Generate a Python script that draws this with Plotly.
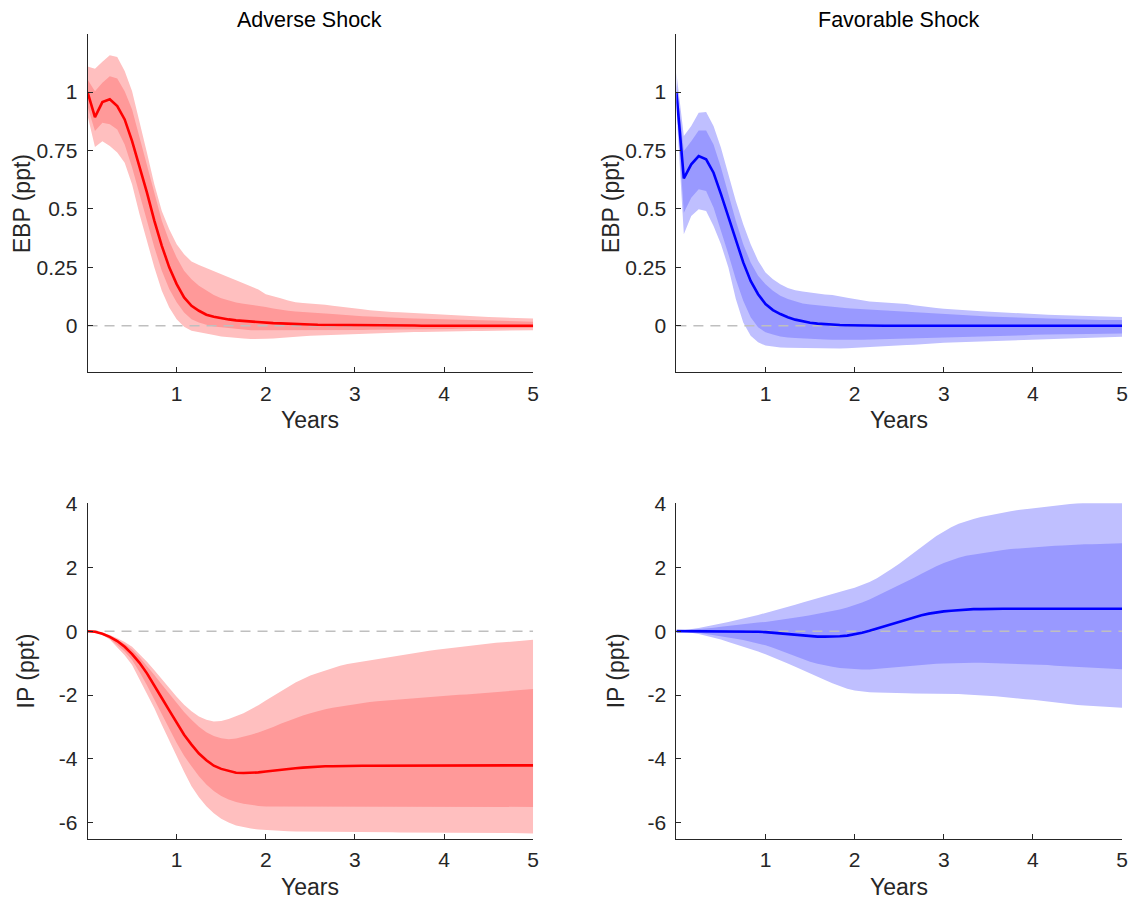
import plotly.graph_objects as go

# Horizon: monthly steps over five years
months = list(range(61))
years = [m / 12 for m in months]

# ---- Excess bond premium (EBP) responses, ppt ----
ebp_adv_med = [1.0, 0.893, 0.957, 0.969, 0.94, 0.883, 0.79, 0.684, 0.57, 0.449, 0.342, 0.25, 0.178, 0.121,
               0.085, 0.064, 0.047, 0.038, 0.031, 0.027, 0.023, 0.02, 0.017, 0.015, 0.013, 0.011, 0.01, 0.008,
               0.007, 0.006, 0.005, 0.004, 0.004, 0.003, 0.003, 0.002, 0.002, 0.001, 0.001, 0.001, 0.001,
               0.001, 0.001, 0.001, 0.001, 0.0, 0.0, 0.0, 0.0, 0.0, 0.0, 0.0, 0.0, 0.0, 0.0, 0.0, 0.0, 0.0,
               0.0, 0.0, 0.0]
ebp_adv_hi90 = [1.11, 1.10, 1.13, 1.158, 1.15, 1.09, 1.004, 0.876, 0.74, 0.605, 0.491, 0.413, 0.349, 0.306,
                0.275, 0.26, 0.246, 0.232, 0.221, 0.207, 0.195, 0.182, 0.168, 0.155, 0.135, 0.128, 0.118,
                0.108, 0.1, 0.097, 0.095, 0.093, 0.09, 0.085, 0.082, 0.078, 0.074, 0.07, 0.066, 0.063, 0.061,
                0.059, 0.058, 0.056, 0.054, 0.052, 0.05, 0.049, 0.047, 0.045, 0.044, 0.043, 0.04, 0.038,
                0.037, 0.036, 0.035, 0.034, 0.033, 0.032, 0.031]
ebp_adv_hi68 = [1.054, 1.004, 1.04, 1.068, 1.058, 1.004, 0.926, 0.805, 0.684, 0.563, 0.449, 0.363, 0.292,
                0.235, 0.199, 0.171, 0.15, 0.132, 0.118, 0.107, 0.099, 0.094, 0.09, 0.085, 0.08, 0.074,
                0.068, 0.064, 0.061, 0.058, 0.056, 0.054, 0.052, 0.05, 0.047, 0.045, 0.043, 0.041, 0.039,
                0.037, 0.036, 0.035, 0.034, 0.032, 0.031, 0.03, 0.029, 0.028, 0.027, 0.026, 0.025, 0.024,
                0.023, 0.022, 0.021, 0.02, 0.02, 0.019, 0.018, 0.018, 0.017]
ebp_adv_lo68 = [0.94, 0.833, 0.869, 0.862, 0.84, 0.776, 0.677, 0.563, 0.449, 0.335, 0.235, 0.157, 0.1, 0.057,
                0.028, 0.014, 0.004, -0.003, -0.007, -0.01, -0.013, -0.016, -0.019, -0.02, -0.021, -0.021,
                -0.021, -0.021, -0.021, -0.021, -0.021, -0.021, -0.02, -0.02, -0.019, -0.019, -0.018, -0.018,
                -0.017, -0.017, -0.017, -0.016, -0.016, -0.016, -0.015, -0.015, -0.015, -0.014, -0.014,
                -0.014, -0.013, -0.013, -0.013, -0.012, -0.012, -0.012, -0.011, -0.011, -0.011, -0.01, -0.01]
ebp_adv_lo90 = [0.90, 0.765, 0.79, 0.769, 0.741, 0.698, 0.605, 0.477, 0.363, 0.249, 0.15, 0.078, 0.028,
                -0.004, -0.021, -0.028, -0.033, -0.04, -0.046, -0.05, -0.053, -0.055, -0.057, -0.057, -0.056,
                -0.055, -0.053, -0.051, -0.048, -0.045, -0.043, -0.041, -0.039, -0.037, -0.036, -0.035,
                -0.034, -0.033, -0.032, -0.031, -0.031, -0.03, -0.029, -0.028, -0.027, -0.027, -0.026,
                -0.026, -0.025, -0.025, -0.024, -0.024, -0.023, -0.023, -0.022, -0.022, -0.021, -0.021,
                -0.02, -0.02, -0.019]

ebp_fav_med = [1.0, 0.631, 0.691, 0.726, 0.712, 0.655, 0.563, 0.463, 0.363, 0.271, 0.192, 0.135, 0.093,
               0.067, 0.05, 0.036, 0.026, 0.019, 0.013, 0.009, 0.006, 0.004, 0.003, 0.002, 0.001, 0.0, 0.0,
               0.0, 0.0, 0.0, 0.0, 0.0, 0.0, 0.0, 0.0, 0.0, 0.0, 0.0, 0.0, 0.0, 0.0, 0.0, 0.0, 0.0, 0.0,
               0.0, 0.0, 0.0, 0.0, 0.0, 0.0, 0.0, 0.0, 0.0, 0.0, 0.0, 0.0, 0.0, 0.0, 0.0, 0.0]
ebp_fav_hi90 = [1.083, 0.812, 0.855, 0.912, 0.915, 0.855, 0.762, 0.648, 0.534, 0.434, 0.349, 0.278, 0.228,
                0.199, 0.178, 0.161, 0.152, 0.147, 0.142, 0.138, 0.134, 0.131, 0.127, 0.12, 0.114, 0.108,
                0.104, 0.102, 0.1, 0.099, 0.096, 0.093, 0.088, 0.083, 0.079, 0.076, 0.073, 0.07, 0.067,
                0.065, 0.064, 0.062, 0.06, 0.058, 0.056, 0.055, 0.054, 0.052, 0.049, 0.048, 0.047, 0.046,
                0.045, 0.043, 0.042, 0.041, 0.04, 0.039, 0.038, 0.037, 0.037]
ebp_fav_hi68 = [1.04, 0.748, 0.79, 0.836, 0.836, 0.776, 0.677, 0.563, 0.449, 0.349, 0.271, 0.214, 0.178,
                0.15, 0.128, 0.114, 0.103, 0.095, 0.091, 0.087, 0.083, 0.08, 0.078, 0.075, 0.073, 0.07,
                0.068, 0.066, 0.064, 0.062, 0.061, 0.06, 0.058, 0.056, 0.053, 0.051, 0.049, 0.047, 0.045,
                0.043, 0.041, 0.04, 0.039, 0.038, 0.037, 0.036, 0.035, 0.034, 0.032, 0.031, 0.03, 0.029,
                0.028, 0.027, 0.027, 0.026, 0.026, 0.025, 0.025, 0.024, 0.024]
ebp_fav_lo68 = [0.96, 0.484, 0.548, 0.584, 0.577, 0.506, 0.406, 0.306, 0.199, 0.107, 0.036, -0.007, -0.028,
                -0.038, -0.046, -0.05, -0.053, -0.055, -0.057, -0.058, -0.059, -0.06, -0.061, -0.061, -0.06,
                -0.06, -0.059, -0.058, -0.058, -0.057, -0.057, -0.057, -0.056, -0.055, -0.054, -0.053,
                -0.052, -0.05, -0.049, -0.048, -0.047, -0.046, -0.046, -0.045, -0.044, -0.043, -0.042,
                -0.041, -0.039, -0.038, -0.038, -0.037, -0.037, -0.036, -0.036, -0.035, -0.035, -0.034,
                -0.034, -0.033, -0.033]
ebp_fav_lo90 = [0.93, 0.392, 0.47, 0.499, 0.491, 0.427, 0.349, 0.249, 0.114, 0.014, -0.043, -0.071, -0.085,
                -0.09, -0.093, -0.094, -0.095, -0.095, -0.096, -0.096, -0.097, -0.097, -0.097, -0.096,
                -0.095, -0.094, -0.093, -0.091, -0.089, -0.087, -0.085, -0.083, -0.081, -0.078, -0.076,
                -0.075, -0.073, -0.071, -0.069, -0.068, -0.068, -0.066, -0.065, -0.063, -0.062, -0.061,
                -0.06, -0.059, -0.058, -0.057, -0.057, -0.056, -0.055, -0.054, -0.053, -0.052, -0.051,
                -0.05, -0.049, -0.048, -0.047]

# ---- Industrial production (IP) responses, ppt ----
ip_adv_med = [0.0, -0.02, -0.08, -0.18, -0.31, -0.49, -0.72, -0.99, -1.32, -1.69, -2.09, -2.48, -2.86, -3.24,
              -3.55, -3.83, -4.04, -4.21, -4.31, -4.38, -4.43, -4.44, -4.44, -4.42, -4.39, -4.36, -4.33,
              -4.31, -4.29, -4.27, -4.25, -4.24, -4.23, -4.23, -4.22, -4.22, -4.21, -4.21, -4.21, -4.21,
              -4.2, -4.2, -4.2, -4.2, -4.2, -4.2, -4.2, -4.2, -4.2, -4.2, -4.2, -4.2, -4.2, -4.2, -4.2,
              -4.2, -4.2, -4.2, -4.2, -4.2, -4.2]
ip_adv_hi90 = [0.0, -0.01, -0.05, -0.12, -0.22, -0.34, -0.49, -0.71, -0.96, -1.22, -1.5, -1.78, -2.05, -2.3,
               -2.51, -2.67, -2.77, -2.83, -2.81, -2.75, -2.67, -2.57, -2.44, -2.32, -2.17, -2.03, -1.88,
               -1.74, -1.61, -1.5, -1.39, -1.31, -1.23, -1.14, -1.08, -1.03, -0.99, -0.95, -0.91, -0.87,
               -0.83, -0.8, -0.76, -0.72, -0.68, -0.64, -0.61, -0.58, -0.55, -0.52, -0.49, -0.46, -0.43,
               -0.4, -0.38, -0.36, -0.35, -0.33, -0.31, -0.29, -0.27]
ip_adv_hi68 = [0.0, -0.015, -0.06, -0.15, -0.26, -0.4, -0.57, -0.82, -1.09, -1.37, -1.67, -1.96, -2.25,
               -2.53, -2.77, -2.99, -3.16, -3.28, -3.35, -3.38, -3.36, -3.31, -3.24, -3.17, -3.09, -3.0,
               -2.9, -2.81, -2.72, -2.64, -2.57, -2.5, -2.44, -2.4, -2.36, -2.32, -2.28, -2.25, -2.22,
               -2.19, -2.17, -2.15, -2.13, -2.11, -2.09, -2.07, -2.06, -2.04, -2.03, -2.01, -1.99, -1.98,
               -1.96, -1.94, -1.93, -1.91, -1.89, -1.87, -1.85, -1.83, -1.81]
ip_adv_lo68 = [0.0, -0.03, -0.11, -0.23, -0.42, -0.64, -0.9, -1.28, -1.69, -2.1, -2.58, -3.04, -3.5, -3.9,
               -4.23, -4.54, -4.8, -5.0, -5.16, -5.27, -5.35, -5.4, -5.44, -5.47, -5.49, -5.5, -5.5, -5.5,
               -5.5, -5.5, -5.5, -5.5, -5.5, -5.5, -5.5, -5.5, -5.5, -5.5, -5.5, -5.5, -5.5, -5.5, -5.5,
               -5.5, -5.5, -5.5, -5.5, -5.5, -5.5, -5.5, -5.5, -5.5, -5.5, -5.5, -5.5, -5.5, -5.5, -5.5,
               -5.5, -5.5, -5.5]
ip_adv_lo90 = [0.0, -0.035, -0.12, -0.26, -0.49, -0.75, -1.06, -1.5, -1.95, -2.41, -2.93, -3.43, -3.92,
               -4.4, -4.85, -5.2, -5.48, -5.7, -5.87, -5.99, -6.08, -6.14, -6.18, -6.21, -6.23, -6.24,
               -6.25, -6.26, -6.27, -6.27, -6.28, -6.28, -6.28, -6.28, -6.28, -6.28, -6.29, -6.29, -6.29,
               -6.29, -6.29, -6.29, -6.3, -6.3, -6.3, -6.3, -6.3, -6.3, -6.31, -6.31, -6.31, -6.31, -6.31,
               -6.31, -6.32, -6.32, -6.32, -6.32, -6.32, -6.32, -6.33]

ip_fav_med = [0.0, 0.0, 0.0, 0.0, 0.0, 0.0, 0.0, 0.0, 0.0, -0.01, -0.01, -0.02, -0.03, -0.05, -0.07, -0.1,
              -0.12, -0.14, -0.16, -0.17, -0.17, -0.17, -0.16, -0.14, -0.1, -0.05, 0.01, 0.08, 0.16, 0.23,
              0.3, 0.37, 0.44, 0.5, 0.55, 0.59, 0.62, 0.64, 0.66, 0.68, 0.69, 0.69, 0.7, 0.7, 0.7, 0.7, 0.7,
              0.7, 0.7, 0.7, 0.7, 0.7, 0.7, 0.7, 0.7, 0.7, 0.7, 0.7, 0.7, 0.7, 0.7]
ip_fav_hi90 = [0.0, 0.03, 0.06, 0.1, 0.15, 0.19, 0.24, 0.29, 0.34, 0.39, 0.45, 0.51, 0.57, 0.63, 0.7, 0.76,
               0.83, 0.9, 0.97, 1.04, 1.1, 1.17, 1.23, 1.3, 1.36, 1.45, 1.54, 1.66, 1.8, 1.95, 2.11, 2.29,
               2.45, 2.63, 2.81, 2.98, 3.12, 3.25, 3.36, 3.44, 3.51, 3.57, 3.62, 3.67, 3.71, 3.75, 3.79,
               3.82, 3.85, 3.88, 3.91, 3.94, 3.96, 3.98, 4.0, 4.02, 4.03, 4.05, 4.06, 4.07, 4.08]
ip_fav_hi68 = [0.0, 0.02, 0.035, 0.05, 0.08, 0.11, 0.14, 0.17, 0.2, 0.22, 0.25, 0.27, 0.29, 0.32, 0.35,
               0.39, 0.43, 0.46, 0.5, 0.54, 0.58, 0.62, 0.68, 0.74, 0.81, 0.9, 0.99, 1.1, 1.21, 1.32, 1.43,
               1.55, 1.67, 1.8, 1.92, 2.03, 2.13, 2.22, 2.3, 2.36, 2.4, 2.44, 2.48, 2.51, 2.54, 2.57, 2.59,
               2.61, 2.63, 2.64, 2.66, 2.67, 2.68, 2.7, 2.71, 2.72, 2.72, 2.73, 2.74, 2.74, 2.75]
ip_fav_lo68 = [0.0, -0.01, -0.03, -0.05, -0.08, -0.12, -0.16, -0.2, -0.24, -0.28, -0.33, -0.38, -0.44,
               -0.52, -0.6, -0.68, -0.78, -0.87, -0.96, -1.02, -1.07, -1.11, -1.15, -1.17, -1.19, -1.2,
               -1.2, -1.19, -1.18, -1.16, -1.14, -1.11, -1.08, -1.06, -1.04, -1.02, -1.01, -1.0, -0.99,
               -0.99, -0.99, -0.99, -0.99, -1.0, -1.0, -1.01, -1.02, -1.03, -1.04, -1.05, -1.06, -1.08,
               -1.09, -1.11, -1.13, -1.14, -1.15, -1.16, -1.17, -1.18, -1.19]
ip_fav_lo90 = [0.0, -0.02, -0.05, -0.09, -0.15, -0.2, -0.26, -0.34, -0.41, -0.49, -0.57, -0.64, -0.72,
               -0.82, -0.91, -1.01, -1.11, -1.22, -1.32, -1.42, -1.53, -1.63, -1.72, -1.8, -1.86, -1.89,
               -1.91, -1.92, -1.93, -1.93, -1.94, -1.94, -1.95, -1.95, -1.95, -1.96, -1.96, -1.97, -1.97,
               -1.98, -1.99, -2.0, -2.02, -2.04, -2.06, -2.08, -2.1, -2.13, -2.15, -2.17, -2.2, -2.22,
               -2.25, -2.28, -2.31, -2.33, -2.35, -2.36, -2.38, -2.39, -2.4]

# Axis ticks
x_ticks = [1, 2, 3, 4, 5]
ebp_ticks = [0, 0.25, 0.5, 0.75, 1]
ebp_tick_text = ["0", "0.25", "0.5", "0.75", "1"]
ip_ticks = [-6, -4, -2, 0, 2, 4]
ip_tick_text = ["-6", "-4", "-2", "0", "2", "4"]

panel_titles = ["Adverse Shock", "Favorable Shock"]
x_title = "Years"
ebp_label = "EBP (ppt)"
ip_label = "IP (ppt)"

RED = dict(line="#FF0000", band68="#FF9999", band90="#FFBFBF")
BLUE = dict(line="#0000FF", band68="#9999FF", band90="#BFBFFF")

W, H = 1133, 902
FONT = "Arial, 'Liberation Sans', Helvetica, sans-serif"
INK = "#262626"

fig = go.Figure()


def add_panel(ax, med, hi68, lo68, hi90, lo90, colors):
    xa, ya = ("x" + ax, "y" + ax)
    poly_x = years + years[::-1]
    fig.add_trace(go.Scatter(x=poly_x, y=hi90 + lo90[::-1], fill="toself", fillcolor=colors["band90"],
                             line=dict(width=0), mode="lines", hoverinfo="skip", showlegend=False,
                             xaxis=xa, yaxis=ya))
    fig.add_trace(go.Scatter(x=poly_x, y=hi68 + lo68[::-1], fill="toself", fillcolor=colors["band68"],
                             line=dict(width=0), mode="lines", hoverinfo="skip", showlegend=False,
                             xaxis=xa, yaxis=ya))
    fig.add_trace(go.Scatter(x=years, y=[0.0] * len(years), mode="lines",
                             line=dict(color="#BFBFBF", width=1.5, dash="10px,7px"),
                             hoverinfo="skip", showlegend=False, xaxis=xa, yaxis=ya))
    fig.add_trace(go.Scatter(x=years, y=med, mode="lines", line=dict(color=colors["line"], width=2.6),
                             showlegend=False, xaxis=xa, yaxis=ya))


add_panel("", ebp_adv_med, ebp_adv_hi68, ebp_adv_lo68, ebp_adv_hi90, ebp_adv_lo90, RED)
add_panel("2", ebp_fav_med, ebp_fav_hi68, ebp_fav_lo68, ebp_fav_hi90, ebp_fav_lo90, BLUE)
add_panel("3", ip_adv_med, ip_adv_hi68, ip_adv_lo68, ip_adv_hi90, ip_adv_lo90, RED)
add_panel("4", ip_fav_med, ip_fav_hi68, ip_fav_lo68, ip_fav_hi90, ip_fav_lo90, BLUE)


def px_x(a, b):
    return [a / W, b / W]


def px_y(top, bottom):
    return [1 - bottom / H, 1 - top / H]


tick_font = dict(family=FONT, size=21, color=INK)
axis_common = dict(showgrid=False, zeroline=False, showline=True, linecolor=INK, linewidth=1,
                   ticks="inside", ticklen=5, tickcolor=INK, tickwidth=1, tickfont=tick_font)

left_x, right_x = px_x(88, 536), px_x(680, 1128)
top_y, bot_y = px_y(22, 365.3), px_y(498, 838)

layout_axes = {}
for name, dom_x, anchor in [("xaxis", left_x, "y"), ("xaxis2", right_x, "y2"),
                            ("xaxis3", left_x, "y3"), ("xaxis4", right_x, "y4")]:
    layout_axes[name] = dict(axis_common, domain=dom_x, range=[0, 5], tickvals=x_ticks, anchor=anchor,
                             ticklabelstandoff=2)
for name, dom_y, anchor, rng, tv, tt in [
        ("yaxis", top_y, "x", [-0.2, 1.25], ebp_ticks, ebp_tick_text),
        ("yaxis2", top_y, "x2", [-0.2, 1.25], ebp_ticks, ebp_tick_text),
        ("yaxis3", bot_y, "x3", [-6.5, 4], ip_ticks, ip_tick_text),
        ("yaxis4", bot_y, "x4", [-6.5, 4], ip_ticks, ip_tick_text)]:
    layout_axes[name] = dict(axis_common, domain=dom_y, range=rng, tickvals=tv, ticktext=tt, anchor=anchor,
                             ticklabelstandoff=5)

annotations = []


def label(text, px, py, size, color=INK, angle=0):
    annotations.append(dict(text=text, x=px / W, y=1 - py / H, xref="paper", yref="paper",
                            showarrow=False, textangle=angle, xanchor="center", yanchor="middle",
                            font=dict(family=FONT, size=size, color=color)))


label(panel_titles[0], 311.5, 8.5, 21.5, "#000000")
label(panel_titles[1], 903.5, 8.5, 21.5, "#000000")
for cx in (311.5, 903.5):
    label(x_title, cx, 414, 23)
    label(x_title, cx, 887, 23)
label(ebp_label, 22.5, 194.5, 23, angle=-90)
label(ebp_label, 614.5, 194.5, 23, angle=-90)
label(ip_label, 26.5, 668, 23, angle=-90)
label(ip_label, 619.5, 668, 23, angle=-90)

fig.update_layout(width=W, height=H, margin=dict(l=0, r=0, t=0, b=0), paper_bgcolor="white",
                  plot_bgcolor="white", showlegend=False, annotations=annotations, **layout_axes)

fig.write_html("out.html", config={"responsive": False},
               post_script="document.body.style.margin='0';document.body.style.overflow='hidden';")
